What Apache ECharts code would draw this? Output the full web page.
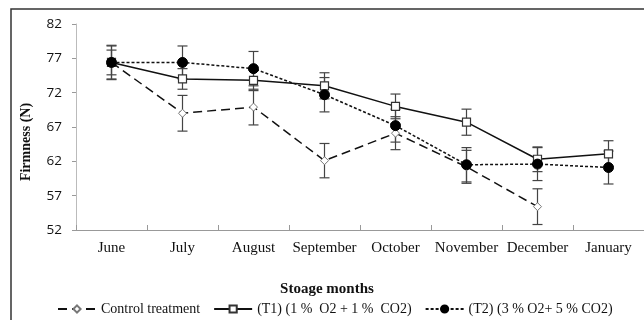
<!DOCTYPE html>
<html><head><meta charset="utf-8">
<script src="https://cdn.jsdelivr.net/npm/echarts@6/dist/echarts.min.js"></script>
<style>html,body{margin:0;padding:0;background:#fff}#c{width:644px;height:320px}</style>
</head><body><div id="c"></div>
<script>
var months = ["June","July","August","September","October","November","December","January"];
var yTicks = [52,57,62,67,72,77,82];
var controlVals = [76.4, 69.0, 69.9, 62.1, 66.1, 61.2, 55.4, null];
var controlErr  = [2.4, 2.6, 2.6, 2.5, 2.4, 2.4, 2.6, null];
var t1Vals = [76.4, 74.0, 73.8, 73.0, 70.0, 67.7, 62.3, 63.1];
var t1Err  = [1.8, 1.5, 1.5, 1.9, 1.8, 1.9, 1.8, 1.9];
var t2Vals = [76.4, 76.4, 75.5, 71.7, 67.2, 61.5, 61.6, 61.1];
var t2Err  = [2.5, 2.4, 2.5, 2.5, 2.4, 2.5, 2.4, 2.4];
var names = ["Control treatment", "(T1) (1 %  O2 + 1 %  CO2)", "(T2) (3 % O2+ 5 % CO2)"];

function errData(vals, errs){
  var out = [];
  for (var i=0;i<vals.length;i++){
    if (vals[i]==null || errs[i]==null) continue;
    out.push([i, vals[i]-errs[i], vals[i]+errs[i]]);
  }
  return out;
}
function errSeries(vals, errs){
  return {
    type:'custom', silent:true, z:1,
    data: errData(vals, errs),
    renderItem: function(params, api){
      var lo = api.coord([api.value(0), api.value(1)]);
      var hi = api.coord([api.value(0), api.value(2)]);
      var w = 5;
      var st = {stroke:'#444', lineWidth:1.2};
      return {type:'group', children:[
        {type:'line', shape:{x1:lo[0],y1:lo[1],x2:hi[0],y2:hi[1]}, style:st},
        {type:'line', shape:{x1:lo[0]-w,y1:lo[1],x2:lo[0]+w,y2:lo[1]}, style:st},
        {type:'line', shape:{x1:hi[0]-w,y1:hi[1],x2:hi[0]+w,y2:hi[1]}, style:st}
      ]};
    }
  };
}
var legendText = {fontFamily:'Liberation Serif', fontSize:14, color:'#111'};

var chart = echarts.init(document.getElementById('c'), null, {renderer:'canvas'});
chart.setOption({
  animation:false,
  backgroundColor:'#fff',
  textStyle:{fontFamily:'Liberation Serif'},
  grid:{left:76, top:24, width:571, height:206, containLabel:false},
  xAxis:{
    type:'category', data:months, boundaryGap:true,
    axisLine:{lineStyle:{color:'#999', width:1}},
    axisTick:{show:true, inside:true, length:5, lineStyle:{color:'#999'}},
    axisLabel:{fontFamily:'Liberation Serif', fontSize:15, color:'#111', margin:11, interval:0}
  },
  yAxis:{
    type:'value', min:52, max:82, interval:5,
    axisLine:{show:true, lineStyle:{color:'#bbb', width:1}},
    axisTick:{show:true, length:4, lineStyle:{color:'#999'}},
    splitLine:{show:false},
    axisLabel:{fontFamily:'Open Sans', fontSize:13.5, color:'#111', margin:14,
      formatter:function(v){ return yTicks.indexOf(v)>=0 ? String(v) : ''; }}
  },
  legend:{
    left:52, top:297, itemWidth:38, itemHeight:9, itemGap:13,
    textStyle:legendText,
    data:names
  },
  graphic:[
    {type:'rect', shape:{x:11,y:9,width:700,height:400}, style:{fill:null, stroke:'#333', lineWidth:1.5}, z:-1},
    {type:'text', x:26, y:142, rotation:Math.PI/2, style:{text:'Firmness (N)', font:'bold 14px "Liberation Serif"', fill:'#111', textAlign:'center', textVerticalAlign:'middle'}},
    {type:'text', x:327, y:289, style:{text:'Stoage months', font:'bold 15px "Liberation Serif"', fill:'#111', textAlign:'center', textVerticalAlign:'middle'}}
  ],
  series:[
    errSeries(controlVals, controlErr),
    errSeries(t1Vals, t1Err),
    errSeries(t2Vals, t2Err),
    {name:names[0], type:'line', data:controlVals, z:3,
     symbol:'diamond', symbolSize:8, connectNulls:false,
     lineStyle:{color:'#111', width:1.5, type:[9,5]},
     itemStyle:{color:'#fff', borderColor:'#777', borderWidth:1}},
    {name:names[1], type:'line', data:t1Vals, z:4,
     symbol:'rect', symbolSize:8,
     lineStyle:{color:'#111', width:1.5, type:'solid'},
     itemStyle:{color:'#fff', borderColor:'#333', borderWidth:1.2}},
    {name:names[2], type:'line', data:t2Vals, z:5,
     symbol:'circle', symbolSize:10,
     lineStyle:{color:'#111', width:1.5, type:[3,2]},
     itemStyle:{color:'#000', borderColor:'#000', borderWidth:1}}
  ]
});
</script></body></html>
